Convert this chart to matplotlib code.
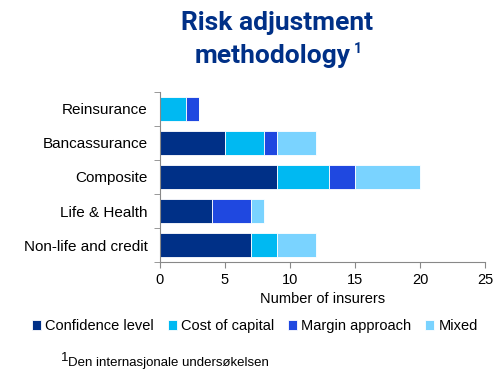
import numpy as np
import matplotlib.pyplot as plt

categories = ["Reinsurance", "Bancassurance", "Composite", "Life & Health", "Non-life and credit"]
series_names = ["Confidence level", "Cost of capital", "Margin approach", "Mixed"]
confidence = [0, 5, 9, 4, 7]
cost_of_capital = [2, 3, 4, 0, 2]
margin = [1, 1, 2, 3, 0]
mixed = [0, 3, 5, 1, 3]
colors = ["#003087", "#00b9f2", "#1f48e0", "#7ad3ff"]

plt.rcParams['font.family'] = ['Liberation Sans', 'DejaVu Sans']

fig = plt.figure(figsize=(5, 3.86), dpi=100)
ax = fig.add_axes([0.32, 0.321, 0.65, 0.441])

y = np.arange(len(categories))[::-1]
left = np.zeros(len(categories))
for vals, name, c in zip([confidence, cost_of_capital, margin, mixed], series_names, colors):
    ax.barh(y, vals, left=left, height=0.7, color=c, edgecolor="white", linewidth=0.6, label=name)
    left += np.array(vals)

ax.set_xlim(0, 25)
ax.set_ylim(-0.5, 4.5)
ax.set_xticks(range(0, 26, 5))
ax.set_yticks(y)
ax.set_yticklabels(categories, fontsize=11)
ax.set_yticks(np.arange(-0.5, 5, 1), minor=True)
ax.tick_params(axis="y", which="major", length=0, pad=9)
ax.tick_params(axis="y", which="minor", length=4, color="#888888")
ax.tick_params(axis="x", length=4, color="#888888", labelsize=10.5)
for s in ["top", "right"]:
    ax.spines[s].set_visible(False)
for s in ["left", "bottom"]:
    ax.spines[s].set_color("#888888")
ax.set_xlabel("Number of insurers", fontsize=10.5, labelpad=4)

title_font = dict(family=["Roboto", "DejaVu Sans"], fontweight="bold", color="#003087")
fig.text(0.555, 0.94, "Risk adjustment", ha="center", va="center", fontsize=19, **title_font)
fig.text(0.545, 0.855, "methodology", ha="center", va="center", fontsize=19, **title_font)
fig.text(0.708, 0.872, "1", ha="left", va="center", fontsize=10, **title_font)

fig.legend(loc="center", bbox_to_anchor=(0.51, 0.155), ncol=4, frameon=False, fontsize=10.5,
           handlelength=0.6, handleheight=0.6, handletextpad=0.3, columnspacing=0.95)

fig.text(0.122, 0.072, "1", fontsize=9.5, ha="left", va="center")
fig.text(0.136, 0.06, "Den internasjonale undersøkelsen", fontsize=9.5, ha="left", va="center")

fig.savefig("out.png", dpi=100)
